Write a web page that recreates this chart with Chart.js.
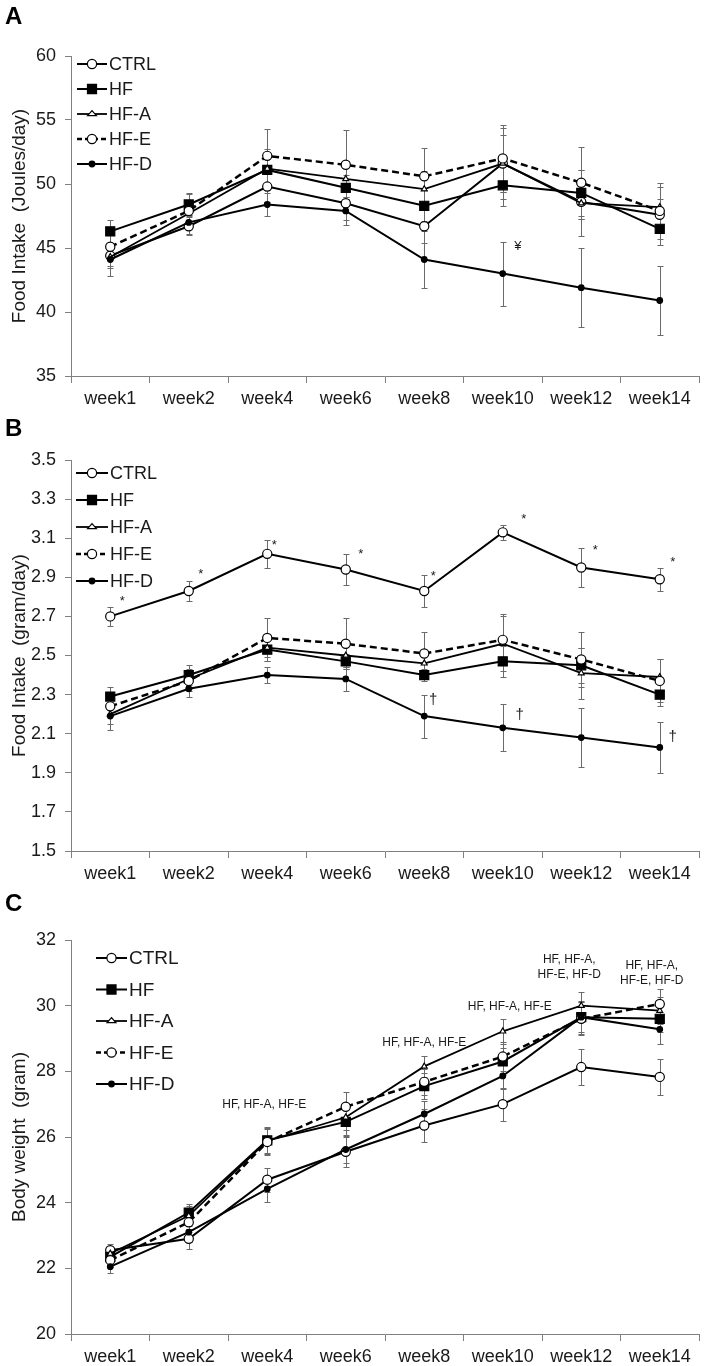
<!DOCTYPE html>
<html lang="en">
<head>
<meta charset="UTF-8">
<title>Food intake and body weight</title>
<script src="https://cdn.jsdelivr.net/npm/chart.js@4.4.1/dist/chart.umd.min.js"></script>
<style>
  body { margin: 0; background: #fff; width: 712px; height: 1366px; position: relative; overflow: hidden;
         font-family: "Liberation Sans", Arial, sans-serif; }
  .panel { position: absolute; left: 0; }
  .tag { position: absolute; left: 5px; font-weight: bold; font-size: 24px; line-height: 24px; color: #000; }
</style>
</head>
<body>
<canvas id="chartA" class="panel" width="712" height="420" style="top:0"></canvas>
<canvas id="chartB" class="panel" width="712" height="470" style="top:420px"></canvas>
<canvas id="chartC" class="panel" width="712" height="476" style="top:890px"></canvas>
<div class="tag" style="top:4px">A</div>
<div class="tag" style="top:416px">B</div>
<div class="tag" style="top:891px">C</div>

<script>
// ---- data ----
const weeks = ['week1', 'week2', 'week4', 'week6', 'week8', 'week10', 'week12', 'week14'];
const groups = ['CTRL', 'HF', 'HF-A', 'HF-E', 'HF-D'];

// A: food intake (Joules/day), means and error
const ticksA = [35, 40, 45, 50, 55, 60];
const ctrlA = [44.4, 46.7, 49.8, 48.5, 46.7, 51.6, 48.6, 47.6];
const hfA   = [46.3, 48.4, 51.1, 49.7, 48.3, 49.9, 49.3, 46.5];
const hfaA  = [44.3, 47.7, 51.2, 50.4, 49.6, 51.6, 48.5, 48.2];
const hfeA  = [45.1, 47.9, 52.2, 51.5, 50.6, 52.0, 50.1, 47.9];
const hfdA  = [44.1, 47.0, 48.4, 47.9, 44.1, 43.0, 41.9, 40.9];
const ctrlAErr = [0.8, 0.7, 1.2, 1.3, 1.3, 2.8, 1.3, 1.2];
const hfAErr   = [0.9, 0.9, 1.6, 1.0, 1.2, 1.6, 1.8, 1.3];
const hfaAErr  = [0.9, 0.8, 1.3, 1.4, 1.4, 2.2, 2.6, 1.6];
const hfeAErr  = [1.0, 1.3, 2.1, 2.7, 2.2, 2.6, 2.8, 2.2];
const hfdAErr  = [1.3, 0.9, 0.9, 1.1, 2.2, 2.5, 3.1, 2.7];

// B: food intake (gram/day)
const ticksB = [1.5, 1.7, 1.9, 2.1, 2.3, 2.5, 2.7, 2.9, 3.1, 3.3, 3.5];
const ctrlB = [2.70, 2.83, 3.02, 2.94, 2.83, 3.13, 2.95, 2.89];
const hfB   = [2.29, 2.40, 2.53, 2.47, 2.40, 2.47, 2.45, 2.30];
const hfaB  = [2.20, 2.38, 2.54, 2.50, 2.46, 2.56, 2.41, 2.39];
const hfeB  = [2.24, 2.37, 2.59, 2.56, 2.51, 2.58, 2.48, 2.37];
const hfdB  = [2.19, 2.33, 2.40, 2.38, 2.19, 2.13, 2.08, 2.03];
const ctrlBErr = [0.05, 0.05, 0.07, 0.08, 0.08, 0.04, 0.10, 0.06];
const hfBErr   = [0.05, 0.05, 0.06, 0.04, 0.03, 0.08, 0.09, 0.06];
const hfaBErr  = [0.05, 0.05, 0.07, 0.06, 0.06, 0.14, 0.13, 0.09];
const hfeBErr  = [0.05, 0.05, 0.10, 0.13, 0.11, 0.13, 0.14, 0.11];
const hfdBErr  = [0.07, 0.04, 0.04, 0.06, 0.11, 0.12, 0.15, 0.13];

// C: body weight (gram)
const ticksC = [20, 22, 24, 26, 28, 30, 32];
const ctrlC = [22.55, 22.9, 24.7, 25.55, 26.35, 27.0, 28.13, 27.83];
const hfC   = [22.35, 23.7, 25.9, 26.46, 27.55, 28.3, 29.65, 29.6];
const hfaC  = [22.45, 23.6, 25.88, 26.6, 28.15, 29.22, 30.0, 29.85];
const hfeC  = [22.25, 23.4, 25.85, 26.92, 27.68, 28.45, 29.6, 30.05];
const hfdC  = [22.05, 23.1, 24.42, 25.62, 26.7, 27.86, 29.65, 29.28];
const ctrlCErr = [0.2, 0.3, 0.37, 0.45, 0.5, 0.5, 0.55, 0.55];
const hfCErr   = [0.2, 0.27, 0.4, 0.4, 0.4, 0.4, 0.45, 0.4];
const hfaCErr  = [0.2, 0.3, 0.4, 0.4, 0.33, 0.38, 0.42, 0.4];
const hfeCErr  = [0.2, 0.3, 0.4, 0.46, 0.4, 0.45, 0.5, 0.45];
const hfdCErr  = [0.2, 0.3, 0.4, 0.4, 0.4, 0.4, 0.5, 0.45];

// significance marks: [week, value, text]
const notesA = [['week10', 45.2, '¥']];
const notesB = [
  ['week1', 2.79, '*'], ['week2', 2.93, '*'], ['week4', 3.08, '*'], ['week6', 3.03, '*'],
  ['week8', 2.92, '*'], ['week10', 3.21, '*'], ['week12', 3.05, '*'], ['week14', 2.99, '*'],
  ['week8', 2.28, '†'], ['week10', 2.20, '†'], ['week14', 2.09, '†']
];
const notesC = [
  ['week4', 27.0, 'HF, HF-A, HF-E'],
  ['week8', 28.88, 'HF, HF-A, HF-E'],
  ['week10', 29.97, 'HF, HF-A, HF-E'],
  ['week12', 31.18, 'HF, HF-A,\nHF-E, HF-D'],
  ['week14', 31.0, 'HF, HF-A,\nHF-E, HF-D']
];

// ---- look of each group (CTRL, HF, HF-A, HF-E, HF-D) ----
const looks = [
  { style: 'circle',   r: 4.6, fill: '#fff', dash: [],     lw: 2 },
  { style: 'rect',     r: 6.4, fill: '#000', dash: [],     lw: 2 },
  { style: 'triangle', r: 3.4, fill: '#fff', dash: [],     lw: 1.8 },
  { style: 'circle',   r: 4.6, fill: '#fff', dash: [7, 4], lw: 2.5 },
  { style: 'circle',   r: 2.8, fill: '#000', dash: [],     lw: 2 }
];

const FONT = '"Liberation Sans", Arial, sans-serif';
Chart.defaults.font.family = FONT;
Chart.defaults.color = '#1a1a1a';

function drawMarker(ctx, lk, x, y) {
  ctx.fillStyle = lk.fill;
  ctx.strokeStyle = '#000';
  ctx.lineWidth = 1.2;
  ctx.beginPath();
  if (lk.style === 'rect') {
    const s = lk.r * Math.SQRT1_2;
    ctx.rect(x - s, y - s, 2 * s, 2 * s);
  } else if (lk.style === 'triangle') {
    const h = lk.r * 1.5, half = lk.r * 1.3;
    ctx.moveTo(x, y - lk.r);
    ctx.lineTo(x + half, y + h - lk.r);
    ctx.lineTo(x - half, y + h - lk.r);
    ctx.closePath();
  } else {
    ctx.arc(x, y, lk.r, 0, Math.PI * 2);
  }
  ctx.fill();
  ctx.stroke();
}

const errorBars = {
  id: 'errorBars',
  beforeDatasetsDraw(chart) {
    const { ctx, scales: { x, y } } = chart;
    ctx.save();
    ctx.strokeStyle = '#6a6a6a';
    ctx.lineWidth = 1;
    chart.data.datasets.forEach(ds => {
      ds.data.forEach((v, i) => {
        const e = ds.errors[i];
        const px = Math.round(x.getPixelForValue(i)) + 0.5;
        const t = Math.round(y.getPixelForValue(v + e)) + 0.5;
        const b = Math.round(y.getPixelForValue(v - e)) + 0.5;
        ctx.beginPath();
        ctx.moveTo(px, t); ctx.lineTo(px, b);
        ctx.moveTo(px - 3, t); ctx.lineTo(px + 3, t);
        ctx.moveTo(px - 3, b); ctx.lineTo(px + 3, b);
        ctx.stroke();
      });
    });
    ctx.restore();
  }
};

// legend drawn inside the plot, line + marker + name
const boxLegend = {
  id: 'boxLegend',
  afterDraw(chart, args, o) {
    const ctx = chart.ctx;
    ctx.save();
    chart.data.datasets.forEach((ds, i) => {
      const lk = looks[i];
      const y = o.top + i * o.gap;
      ctx.strokeStyle = '#000';
      ctx.lineWidth = lk.lw;
      ctx.setLineDash(lk.dash.length ? [5, 3] : []);
      ctx.beginPath();
      ctx.moveTo(o.left, y);
      ctx.lineTo(o.left + o.len, y);
      ctx.stroke();
      ctx.setLineDash([]);
      drawMarker(ctx, lk, o.left + o.len / 2, y);
      ctx.fillStyle = '#1a1a1a';
      ctx.font = o.size + 'px ' + FONT;
      ctx.textBaseline = 'middle';
      ctx.textAlign = 'left';
      ctx.fillText(ds.label, o.left + o.len + 2, y + 1);
    });
    ctx.restore();
  }
};

const notes = {
  id: 'notes',
  afterDatasetsDraw(chart, args, o) {
    const { ctx, scales: { x, y } } = chart;
    ctx.save();
    ctx.fillStyle = '#1a1a1a';
    ctx.textAlign = 'center';
    ctx.textBaseline = 'alphabetic';
    o.items.forEach((n, i) => {
      const lines = n[2].split('\n');
      ctx.font = (o.sizes[n[2]] || o.size) + 'px ' + FONT;
      const px = x.getPixelForValue(weeks.indexOf(n[0])) + o.dx[i];
      const cy = y.getPixelForValue(n[1]);
      lines.forEach((t, k) => {
        const m = ctx.measureText(t);
        const ly = cy + (k - (lines.length - 1) / 2) * o.lineH;
        ctx.fillText(t, px, ly + (m.actualBoundingBoxAscent - m.actualBoundingBoxDescent) / 2);
      });
    });
    ctx.restore();
  }
};

function makeChart(id, p) {
  const sets = [
    [p.ctrl, p.ctrlErr], [p.hf, p.hfErr], [p.hfa, p.hfaErr], [p.hfe, p.hfeErr], [p.hfd, p.hfdErr]
  ];
  const canvas = document.getElementById(id);
  return new Chart(canvas, {
    type: 'line',
    data: {
      labels: weeks,
      datasets: sets.map((s, i) => ({
        label: groups[i],
        data: s[0],
        errors: s[1],
        borderColor: '#000',
        borderWidth: looks[i].lw,
        borderDash: looks[i].dash,
        pointStyle: looks[i].style,
        pointRadius: looks[i].r,
        pointBackgroundColor: looks[i].fill,
        pointBorderColor: '#000',
        pointBorderWidth: 1.2,
        tension: 0,
        fill: false,
        order: 5 - i
      }))
    },
    options: {
      responsive: false,
      animation: false,
      devicePixelRatio: 1,
      layout: { padding: { top: p.top, right: 13, left: 0, bottom: 0 } },
      plugins: {
        legend: { display: false },
        tooltip: { enabled: false },
        boxLegend: p.legend,
        notes: p.notes
      },
      scales: {
        x: {
          offset: true,
          grid: { offset: true, drawOnChartArea: false, tickLength: 7, color: '#808080' },
          border: { color: '#808080' },
          ticks: { font: { size: 18 }, color: '#1a1a1a', padding: 5, maxRotation: 0, autoSkip: false },
          afterFit(scale) { scale.height = canvas.height - p.bottom; }
        },
        y: {
          min: p.ticks[0],
          max: p.ticks[p.ticks.length - 1],
          afterBuildTicks(scale) { scale.ticks = p.ticks.map(v => ({ value: v })); },
          grid: { drawOnChartArea: false, tickLength: 6, color: '#808080' },
          border: { color: '#808080' },
          ticks: { font: { size: 18 }, color: '#1a1a1a', padding: 9, callback: p.fmt },
          title: { display: true, text: p.title, font: { size: 19 }, color: '#1a1a1a', padding: { top: 8, bottom: 0 } },
          afterFit(scale) { scale.width = 71; }
        }
      }
    },
    plugins: [errorBars, boxLegend, notes]
  });
}

makeChart('chartA', {
  ctrl: ctrlA, hf: hfA, hfa: hfaA, hfe: hfeA, hfd: hfdA,
  ctrlErr: ctrlAErr, hfErr: hfAErr, hfaErr: hfaAErr, hfeErr: hfeAErr, hfdErr: hfdAErr,
  ticks: ticksA, fmt: v => v, title: 'Food Intake  (Joules/day)',
  top: 56, bottom: 376,
  legend: { left: 77, top: 64, gap: 25, len: 30, size: 18 },
  notes: { items: notesA, dx: [15], size: 13, sizes: {}, lineH: 15 }
});

makeChart('chartB', {
  ctrl: ctrlB, hf: hfB, hfa: hfaB, hfe: hfeB, hfd: hfdB,
  ctrlErr: ctrlBErr, hfErr: hfBErr, hfaErr: hfaBErr, hfeErr: hfeBErr, hfdErr: hfdBErr,
  ticks: ticksB, fmt: v => v.toFixed(1), title: 'Food Intake  (gram/day)',
  top: 40, bottom: 431,
  legend: { left: 76, top: 53, gap: 27, len: 32, size: 18 },
  notes: { items: notesB, dx: [12, 12, 7, 15, 9, 21, 14, 13, 9, 17, 13], size: 13, sizes: { '†': 15 }, lineH: 15 }
});

makeChart('chartC', {
  ctrl: ctrlC, hf: hfC, hfa: hfaC, hfe: hfeC, hfd: hfdC,
  ctrlErr: ctrlCErr, hfErr: hfCErr, hfaErr: hfaCErr, hfeErr: hfeCErr, hfdErr: hfdCErr,
  ticks: ticksC, fmt: v => v, title: 'Body weight  (gram)',
  top: 50, bottom: 444,
  legend: { left: 96, top: 68, gap: 31.5, len: 31, size: 19 },
  notes: { items: notesC, dx: [-3, 0, 7, -12, -8], size: 12, sizes: {}, lineH: 15 }
});
</script>
</body>
</html>
